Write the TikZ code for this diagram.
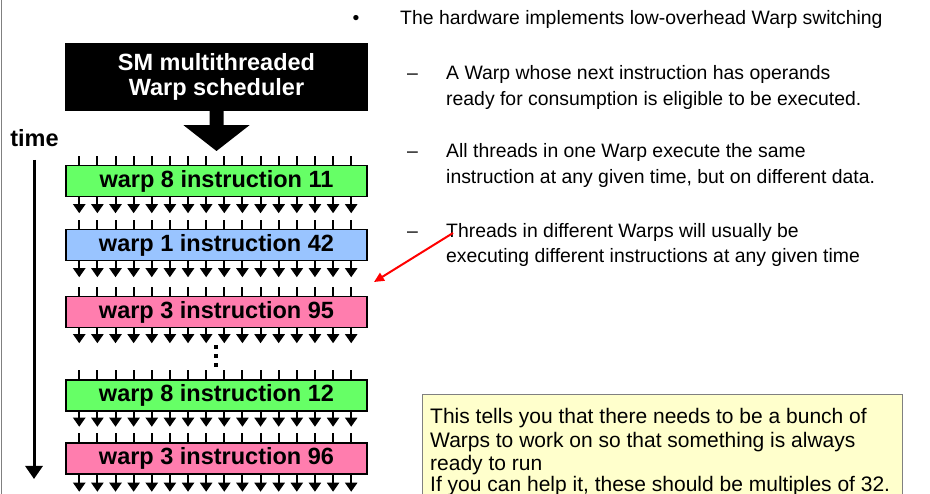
\documentclass[tikz,border=0pt]{standalone}
\usepackage{fontspec}
\setmainfont{Liberation Sans}
\usetikzlibrary{arrows.meta,calc}
\definecolor{warpgreen}{HTML}{66FF66}
\definecolor{warpblue}{HTML}{99C4FF}
\definecolor{warppink}{HTML}{FF7DAE}
\definecolor{notefill}{HTML}{FFFFCC}
\definecolor{framegray}{HTML}{808080}
\begin{document}
\begin{tikzpicture}[x=1pt,y=-1pt,
  bigbold/.style={font=\fontsize{23.5}{25}\selectfont\bfseries},
  warpbox/.style={draw=black, line width=1.5pt, minimum width=301pt,
    minimum height=31pt, inner sep=0pt, bigbold},
  body/.style={font=\fontsize{19.4}{23}\selectfont, inner sep=0pt, anchor=base west},
  notetext/.style={font=\fontsize{21}{23}\selectfont, inner sep=0pt, anchor=base west},
  thread/.style={line width=2pt, -{Triangle[width=12pt,length=9pt]}},
  tick/.style={line width=2pt},
]
\useasboundingbox (0,0) rectangle (930,494);
\draw[framegray, line width=1pt] (1,0) -- (1,494);

% scheduler block and its broad arrow
\node[fill=black, text=white, minimum width=303pt, minimum height=68pt,
  align=center, bigbold] (sched) at (216.5,77) {SM multithreaded\\Warp scheduler};
\coordinate (schedtip) at (216.5,151);
\fill ($(sched.south)+(-7,0)$) -- ($(sched.south)+(7,0)$) -- ($(sched.south)+(7,14)$)
  -- ($(sched.south)+(33,14)$) -- (schedtip) -- ($(sched.south)+(-33,14)$)
  -- ($(sched.south)+(-7,14)$) -- cycle;

% time axis
\node[bigbold, inner sep=0pt] (time) at (34.5,138) {time};
\coordinate (timetop) at (34,160);
\coordinate (timebot) at (34,479);
\draw[line width=3pt, -{Triangle[width=17pt,length=13pt]}] (timetop) -- (timebot);

% instruction rows
\node[warpbox, fill=warpgreen] (w1) at (216.5,181) {warp 8 instruction 11};
\node[warpbox, fill=warpblue]  (w2) at (216.5,245) {warp 1 instruction 42};
\node[warpbox, fill=warppink]  (w3) at (216.5,312) {warp 3 instruction 95};
\node[warpbox, fill=warpgreen] (w4) at (216.5,395.5) {warp 8 instruction 12};
\node[warpbox, fill=warppink]  (w5) at (216.5,458.5) {warp 3 instruction 96};

\foreach \b/\len in {w1/16, w2/16, w3/15, w4/15, w5/17}{
  \foreach \i in {0,...,15}{
    \draw[tick] ($(\b.north west)+(14+18.13*\i,0)$) -- ++(0,-9);
    \draw[thread] ($(\b.south west)+(14+18.13*\i,0)$) -- ++(0,\len);
  }
}

% vertical ellipsis between rows
\foreach \y in {345,354,363}
  \fill (214,\y) rectangle ++(4,4);

% explanatory text
\node[body, anchor=base] (bul) at (356,25) {•};
\node[body] (t0) at (400,25) {The hardware implements low-overhead Warp switching};
\node[body] (d1) at (407,80) {–};
\node[body] (t1a) at (446,80) {A Warp whose next instruction has operands};
\node[body] (t1b) at (446,106) {ready for consumption is eligible to be executed.};
\node[body] (d2) at (407,158) {–};
\node[body] (t2a) at (446,158) {All threads in one Warp execute the same};
\node[body] (t2b) at (446,184) {instruction at any given time, but on different data.};
\node[body] (d3) at (407,238) {–};
\node[body] (t3a) at (446,238) {Threads in different Warps will usually be};
\node[body] (t3b) at (446,263) {executing different instructions at any given time};

% pointer from the last remark to the rows
\coordinate (redstart) at (453,233);
\coordinate (redend) at (374,282);
\draw[red, line width=2pt, -{Triangle[width=9pt,length=10pt]}] (redstart) -- (redend);

% note box
\fill[notefill] (422,395) rectangle (902,494);
\draw[framegray, line width=1pt] (422,494) -- (422,395) -- (902,395) -- (902,494);
\node[notetext] (n1) at (430,424) {This tells you that there needs to be a bunch of};
\node[notetext] (n2) at (430,447.3) {Warps to work on so that something is always};
\node[notetext] (n3) at (430,470.6) {ready to run};
\node[notetext] (n4) at (430,492) {If you can help it, these should be multiples of 32.};
\end{tikzpicture}
\end{document}
